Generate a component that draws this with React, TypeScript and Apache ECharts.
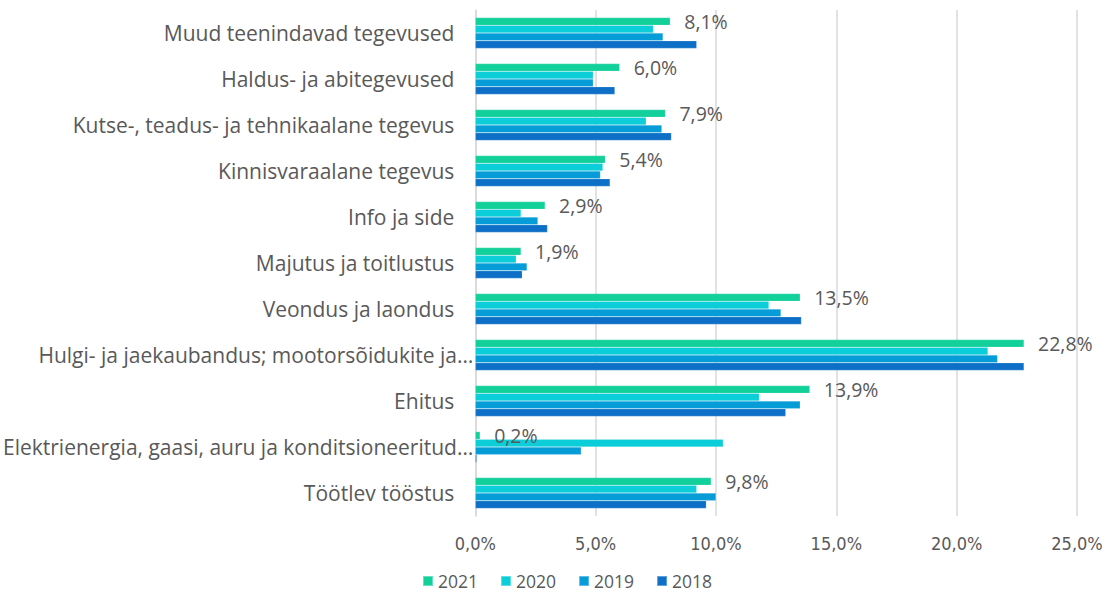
import React, { useEffect, useRef } from "react";
import * as echarts from "echarts";

const categories = [
  "Muud teenindavad tegevused",
  "Haldus- ja abitegevused",
  "Kutse-, teadus- ja tehnikaalane tegevus",
  "Kinnisvaraalane tegevus",
  "Info ja side",
  "Majutus ja toitlustus",
  "Veondus ja laondus",
  "Hulgi- ja jaekaubandus; mootorsõidukite ja…",
  "Ehitus",
  "Elektrienergia, gaasi, auru ja konditsioneeritud…",
  "Töötlev tööstus",
];

const seriesNames = ["2021", "2020", "2019", "2018"];
const v2021 = [8.1, 6.0, 7.9, 5.4, 2.9, 1.9, 13.5, 22.8, 13.9, 0.2, 9.8];
const v2020 = [7.4, 4.9, 7.1, 5.3, 1.9, 1.7, 12.2, 21.3, 11.8, 10.3, 9.2];
const v2019 = [7.8, 4.9, 7.75, 5.2, 2.6, 2.15, 12.7, 21.7, 13.5, 4.4, 10.0];
const v2018 = [9.2, 5.8, 8.15, 5.6, 3.0, 1.95, 13.55, 22.8, 12.9, 0.06, 9.6];
const seriesValues = [v2021, v2020, v2019, v2018];
const colors = ["#12D09A", "#0BCED9", "#059CD8", "#0E6FC6"];

const FONT = "Open Sans";
const NARROW = "'Liberation Sans Narrow', 'DejaVu Sans Condensed', 'Open Sans'";
const TEXT = "#595959";
const pct = (v: number) => v.toFixed(1).replace(".", ",") + "%";

export default function App() {
  const ref = useRef<HTMLDivElement>(null);
  useEffect(() => {
    if (!ref.current) return;
    const chart = echarts.init(ref.current, undefined, { renderer: "svg" });
    chart.setOption({
      animation: false,
      textStyle: { fontFamily: FONT },
      grid: { left: 475, right: 29, top: 10, bottom: 80, containLabel: false },
      legend: {
        data: seriesNames,
        left: 422,
        top: 572,
        padding: 0,
        icon: "rect",
        itemWidth: 10,
        itemHeight: 10,
        itemGap: 22,
        textStyle: { fontFamily: FONT, fontSize: 17.5, lineHeight: 18, color: TEXT },
      },
      xAxis: {
        type: "value",
        min: 0,
        max: 25,
        interval: 5,
        axisLine: { show: false },
        axisTick: { show: false },
        splitLine: { lineStyle: { color: "#D9D9D9", width: 1.5 } },
        axisLabel: {
          formatter: (v: number) => pct(v),
          fontFamily: NARROW,
          fontSize: 18,
          color: TEXT,
          margin: 18,
        },
      },
      yAxis: {
        type: "category",
        inverse: true,
        data: categories,
        axisLine: { show: true, lineStyle: { color: "#D9D9D9", width: 1.5 } },
        axisTick: { show: false },
        axisLabel: {
          fontFamily: FONT,
          fontSize: 21,
          color: TEXT,
          margin: 2,
          formatter: (v: string) => (v.endsWith("…") ? `{t|${v}}` : `{n|${v}}`),
          rich: {
            t: { fontFamily: FONT, fontSize: 21, color: TEXT },
            n: { fontFamily: FONT, fontSize: 21, color: TEXT, padding: [0, 19, 0, 0] },
          },
        },
      },
      series: seriesNames.map((name, i) => ({
        name,
        type: "bar",
        data: seriesValues[i],
        barGap: "0%",
        barCategoryGap: "33%",
        itemStyle: { color: colors[i], borderColor: "rgba(255,255,255,0.35)", borderWidth: 0.5 },
        label:
          i === 0
            ? {
                show: true,
                position: "right",
                distance: 14,
                formatter: (p: any) => pct(p.value),
                fontFamily: FONT,
                fontSize: 19.5,
                color: TEXT,
              }
            : { show: false },
      })),
    });
    return () => chart.dispose();
  }, []);
  return (
    <div
      ref={ref}
      style={{ position: "absolute", left: 0, top: 0, width: 1106, height: 596 }}
    />
  );
}
